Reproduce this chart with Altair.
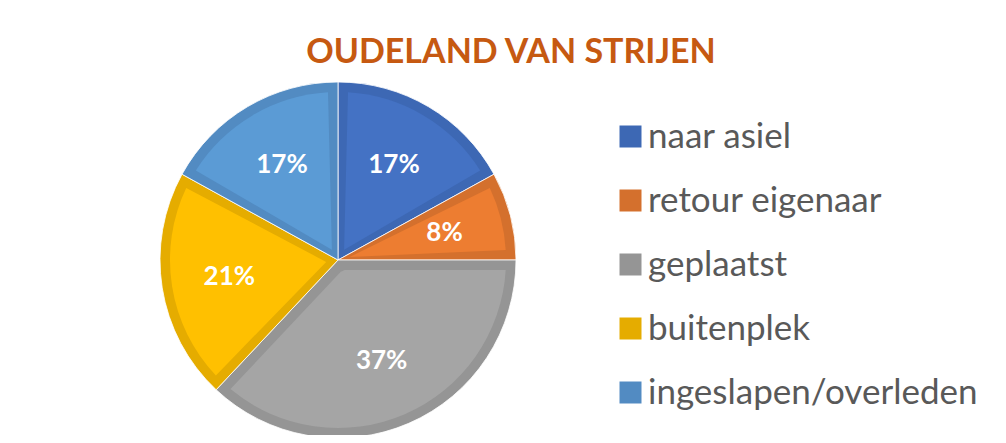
import altair as alt
import pandas as pd

categories = ["naar asiel", "retour eigenaar", "geplaatst", "buitenplek", "ingeslapen/overleden"]
percentages = [17, 8, 37, 21, 17]
order_idx = [1, 2, 3, 4, 5]

border_colors = ["#3D68B4", "#D4702D", "#959595", "#E5AC00", "#528BC2"]
fill_colors = ["#4472C4", "#ED7D31", "#A5A5A5", "#FFC000", "#5B9BD5"]

df = pd.DataFrame({"cat": categories, "pct": percentages, "idx": order_idx})

cx = alt.value(330)
cy = alt.value(252)

base = alt.Chart(df).transform_calculate(label="datum.pct + '%'")

outer = base.mark_arc(radius=178, stroke="white", strokeWidth=0.8).encode(
    theta=alt.Theta("pct:Q", stack=True),
    color=alt.Color(
        "cat:N",
        scale=alt.Scale(domain=categories, range=border_colors),
        sort=categories,
        legend=alt.Legend(
            title=None,
            orient="none",
            legendX=605,
            legendY=111,
            symbolType="square",
            symbolSize=484,
            symbolStrokeWidth=0,
            symbolOpacity=1,
            labelFont="Lato",
            labelFontSize=35,
            labelColor="#595959",
            labelOffset=0,
            rowPadding=28,
            padding=0,
            labelLimit=400,
        ),
    ),
    order=alt.Order("idx:Q"),
    x=cx,
    y=cy,
)

inner = base.mark_arc(radius=168, radius2=12, padAngle=0.119).encode(
    theta=alt.Theta("pct:Q", stack=True),
    fill=alt.Fill(
        "cat:N",
        scale=alt.Scale(domain=categories, range=fill_colors),
        sort=categories,
        legend=None,
    ),
    order=alt.Order("idx:Q"),
    x=cx,
    y=cy,
)

labels = base.mark_text(
    radius=110, font="Lato", fontSize=26, fontWeight="bold", color="white",
    align="center", baseline="middle",
).encode(
    theta=alt.Theta("pct:Q", stack=True),
    text=alt.Text("label:N"),
    order=alt.Order("idx:Q"),
    x=cx,
    y=cy,
)

chart = (
    alt.layer(outer, inner, labels)
    .resolve_scale(color="independent", fill="independent")
    .properties(
        width=990,
        height=427,
        padding=0,
        autosize=alt.AutoSizeParams(type="none"),
        title=alt.TitleParams(
            "OUDELAND VAN STRIJEN",
            font="Lato",
            fontSize=34,
            fontWeight="bold",
            color="#C65911",
            anchor="middle",
            frame="group",
            baseline="alphabetic",
            offset=-56,
            dx=8,
            dy=33,
        ),
    )
    .configure_view(stroke=None)
)

chart.save("out.html", embed_options={"renderer": "svg", "actions": False})
